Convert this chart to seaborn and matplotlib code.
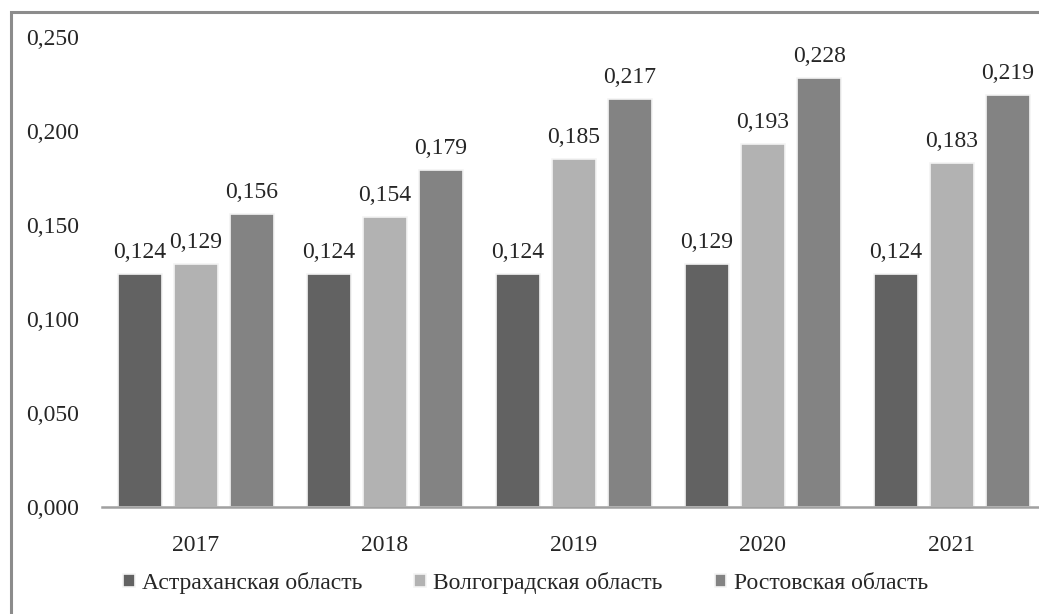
import pandas as pd
import seaborn as sns
import matplotlib.pyplot as plt
from matplotlib.patches import Rectangle

years = ['2017', '2018', '2019', '2020', '2021']
regions = ['Астраханская область', 'Волгоградская область', 'Ростовская область']
astrakhan = [0.124, 0.124, 0.124, 0.129, 0.124]
volgograd = [0.129, 0.154, 0.185, 0.193, 0.183]
rostov = [0.156, 0.179, 0.217, 0.228, 0.219]
colors = ['#626262', '#b2b2b2', '#838383']

rows = []
for name, vals in zip(regions, [astrakhan, volgograd, rostov]):
    for y, v in zip(years, vals):
        rows.append({'year': y, 'region': name, 'value': v})
df = pd.DataFrame(rows)

sns.set_style('white')
plt.rcParams['font.family'] = ['Liberation Serif', 'DejaVu Serif']
fs = 17

fig = plt.figure(figsize=(10.39, 6.14), dpi=100)
ax = fig.add_axes([101.5 / 1039, 1 - 507 / 614, 945 / 1039, 470 / 614])

sns.barplot(data=df, x='year', y='value', hue='region', palette=colors,
            width=0.89, gap=0.23, ax=ax, legend=True,
            edgecolor='#f4f4f4', linewidth=1.2)

for cont in ax.containers:
    ax.bar_label(cont, labels=[f'{v:.3f}'.replace('.', ',') for v in cont.datavalues],
                 padding=8, fontsize=fs)

ax.set_ylim(0, 0.25)
ax.set_yticks([0, 0.05, 0.1, 0.15, 0.2, 0.25])
ax.set_yticklabels([f'{t:.3f}'.replace('.', ',') for t in ax.get_yticks()])
ax.tick_params(axis='y', length=0, pad=16, labelsize=fs)
ax.tick_params(axis='x', length=0, pad=20, labelsize=fs)
ax.set_xlabel('')
ax.set_ylabel('')
for s in ['top', 'right', 'left']:
    ax.spines[s].set_visible(False)
ax.spines['bottom'].set_color('#a0a0a0')
ax.spines['bottom'].set_linewidth(1.8)

handles, labels = ax.get_legend_handles_labels()
ax.get_legend().remove()
fig.legend(handles, labels, loc='center left', bbox_to_anchor=(102 / 1039, 1 - 583 / 614),
           ncol=3, frameon=False, fontsize=fs, handlelength=0.5, handleheight=0.5,
           handletextpad=0.3, columnspacing=2.2)

# chart frame (cropped on right and bottom)
fig.patches.append(Rectangle((11 / 1039, -0.1), 1.2, 1 - 12 / 614 + 0.1,
                             transform=fig.transFigure, fill=False,
                             edgecolor='#8c8c8c', linewidth=2.2, zorder=-1))

fig.savefig('out.png', dpi=100)
